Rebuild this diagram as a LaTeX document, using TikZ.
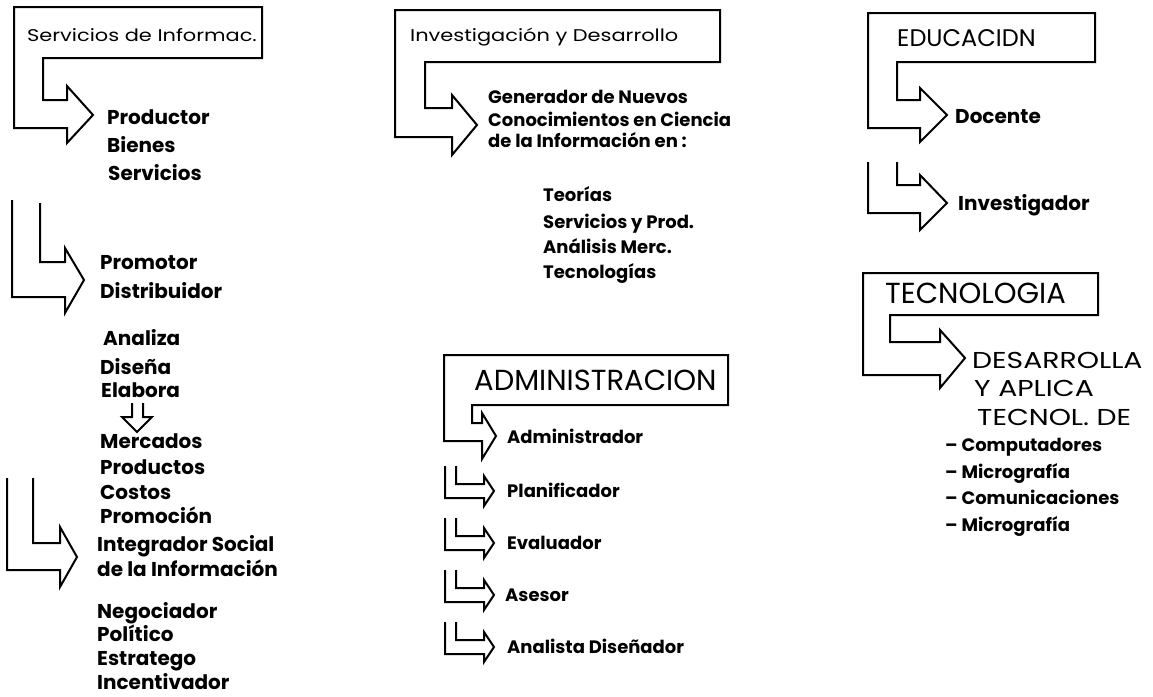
\documentclass[tikz,border=0pt]{standalone}
\usepackage{fontspec}
\setmainfont{Poppins}
\newfontfamily\widefont[FakeStretch=1.23]{Poppins}
\usetikzlibrary{positioning}

\begin{document}
\begin{tikzpicture}[
  x=1pt, y=-1pt,
  every node/.style={inner sep=0pt, anchor=west, text depth=0pt},
  frame/.style={draw, line width=2pt, line join=miter},
  small-hdr/.style={font=\widefont\fontsize{17}{20}\selectfont, text height=12pt},
  mid-hdr/.style={font=\fontsize{24}{28}\selectfont, text height=17pt},
  wide-hdr/.style={font=\widefont\fontsize{23}{28}\selectfont, text height=17pt},
  big-hdr/.style={font=\fontsize{29}{34}\selectfont, text height=21pt},
  item/.style={font=\fontsize{20}{24}\selectfont\bfseries, text height=14pt},
  small-item/.style={font=\fontsize{18}{22}\selectfont\bfseries, text height=13pt}]

  \useasboundingbox (0,0) rectangle (1153,696);

  % Servicios de Informacion
  \draw[frame] (14,7) -- (262,7) -- (262,58) -- (43,58) -- (43,100) -- (67,100)
    -- (67,86) -- (93,115) -- (67,143) -- (67,128) -- (14,128) -- cycle;
  \node[small-hdr] (serv-hdr) at (27,35) {Servicios de Informac.};
  \node[item] (productor) at (107,117) {Productor};
  \node[item] (bienes) at (107,145) {Bienes};
  \node[item] (servicios) at (108,173) {Servicios};

  \draw[frame] (12,200) -- (12,297) -- (65,297) -- (65,313) -- (84,280)
    -- (65,248) -- (65,262) -- (40,262) -- (40,203);
  \node[item] (promotor) at (100,262) {Promotor};
  \node[item] (distribuidor) at (100,291) {Distribuidor};

  \node[item] (analiza) at (103,338) {Analiza};
  \node[item] (disena) at (100,367) {Diseña};
  \node[item] (elabora) at (101,390) {Elabora};
  \draw[frame] (132,403) -- (132,417) -- (122,417) -- (137,432) -- (152,417)
    -- (143,417) -- (143,403);
  \node[item] (mercados) at (100,441) {Mercados};
  \node[item] (productos) at (100,467) {Productos};
  \node[item] (costos) at (100,492) {Costos};
  \node[item] (promocion) at (100,516) {Promoción};

  \draw[frame] (7,478) -- (7,570) -- (60,570) -- (60,587) -- (77,557)
    -- (60,527) -- (60,543) -- (33,543) -- (33,478);
  \node[item] (integrador) at (97,544) {Integrador Social};
  \node[item] (de-la-inf) at (97,569) {de la Información};
  \node[item] (negociador) at (97,611) {Negociador};
  \node[item] (politico) at (97,634) {Político};
  \node[item] (estratego) at (97,658) {Estratego};
  \node[item] (incentivador) at (97,682) {Incentivador};

  % Investigacion y Desarrollo
  \draw[frame] (395,10) -- (720,10) -- (720,62) -- (425,62) -- (425,108) -- (452,108)
    -- (452,95) -- (477,125) -- (452,155) -- (452,137) -- (395,137) -- cycle;
  \node[small-hdr] (inv-hdr) at (410,35) {Investigación y Desarrollo};
  \node[small-item] (generador) at (488,97) {Generador de Nuevos};
  \node[small-item] (conocimientos) at (488,120) {Conocimientos en Ciencia};
  \node[small-item] (de-la-inf-en) at (488,141) {de la Información en :};
  \node[small-item] (teorias) at (543,195) {Teorías};
  \node[small-item] (serv-prod) at (543,222) {Servicios y Prod.};
  \node[small-item] (analisis) at (543,247) {Análisis Merc.};
  \node[small-item] (tecnologias) at (543,272) {Tecnologías};

  % Administracion
  \draw[frame] (444,355) -- (728,355) -- (728,405) -- (472,405) -- (472,423) -- (482,423)
    -- (482,413) -- (496,436) -- (482,459) -- (482,441) -- (444,441) -- cycle;
  \node[big-hdr] (adm-hdr) at (474,380) {ADMINISTRACION};
  \node[small-item] (administrador) at (507,437) {Administrador};

  \draw[frame] (445,466) -- (445,498) -- (484,498) -- (484,506) -- (494,491)
    -- (484,476) -- (484,484) -- (456,484) -- (456,466);
  \node[small-item] (planificador) at (507,491) {Planificador};
  \draw[frame] (445,518) -- (445,550) -- (484,550) -- (484,558) -- (494,543)
    -- (484,528) -- (484,536) -- (456,536) -- (456,518);
  \node[small-item] (evaluador) at (507,543) {Evaluador};
  \draw[frame] (445,570) -- (445,602) -- (484,602) -- (484,610) -- (494,595)
    -- (484,580) -- (484,588) -- (456,588) -- (456,570);
  \node[small-item] (asesor) at (505,595) {Asesor};
  \draw[frame] (445,622) -- (445,654) -- (484,654) -- (484,662) -- (494,647)
    -- (484,632) -- (484,640) -- (456,640) -- (456,622);
  \node[small-item] (analista) at (507,647) {Analista Diseñador};

  % Educacion
  \draw[frame] (868,13) -- (1095,13) -- (1095,62) -- (897,62) -- (897,100) -- (920,100)
    -- (920,88) -- (947,115) -- (920,142) -- (920,128) -- (868,128) -- cycle;
  \node[mid-hdr] (edu-hdr) at (897,38) {EDUCACIDN};
  \node[item] (docente) at (955,116) {Docente};
  \draw[frame] (868,162) -- (868,213) -- (920,213) -- (920,230) -- (947,203)
    -- (920,175) -- (920,185) -- (897,185) -- (897,162);
  \node[item] (investigador) at (958,203) {Investigador};

  % Tecnologia
  \draw[frame] (863,273) -- (1098,273) -- (1098,315) -- (890,315) -- (890,342) -- (940,342)
    -- (940,330) -- (965,358) -- (940,388) -- (940,375) -- (863,375) -- cycle;
  \node[big-hdr] (tec-hdr) at (885,293) {TECNOLOGIA};
  \node[wide-hdr] (desarrolla) at (972,360) {DESARROLLA};
  \node[wide-hdr] (y-aplica) at (974,388) {Y APLICA};
  \node[wide-hdr] (tecnol-de) at (977,417) {TECNOL. DE};
  \node[small-item] (computadores) at (945,445) {– Computadores};
  \node[small-item] (micrografia) at (945,472) {– Micrografía};
  \node[small-item] (comunicaciones) at (945,498) {– Comunicaciones};
  \node[small-item] (micrografia-2) at (945,525) {– Micrografía};
\end{tikzpicture}
\end{document}
